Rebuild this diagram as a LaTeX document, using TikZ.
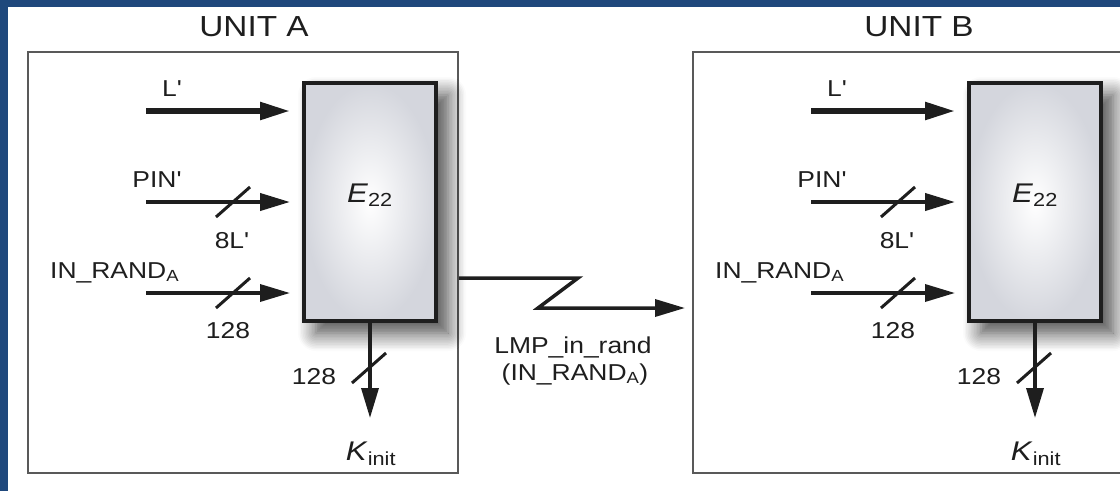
\documentclass[tikz,border=0pt]{standalone}
\usepackage{fontspec}
\setmainfont{Liberation Sans}[Ligatures=TeXOff,FakeStretch=1.15]
\usetikzlibrary{arrows.meta,shadows.blur}
\definecolor{frameblue}{RGB}{31,72,124}
\definecolor{boxgray}{RGB}{212,214,221}
\definecolor{inkblack}{RGB}{30,30,30}
\newcommand{\lblfont}{\fontsize{23}{27}\selectfont}
\newcommand{\bigfont}{\fontsize{27}{32}\selectfont}
\newcommand{\unitfont}{\fontsize{29}{34}\selectfont}

\begin{document}
\begin{tikzpicture}[x=1pt,y=-1pt,
    lbl/.style={anchor=base,inner sep=0pt,font=\lblfont,text=inkblack},
    unitbox/.style={draw=black!65,line width=2pt,minimum width=430pt,minimum height=421pt,inner sep=0pt},
    ebox/.style={draw=inkblack,line width=4pt,minimum width=132pt,minimum height=238pt,inner sep=0pt,
        inner color=white,outer color=boxgray,
        blur shadow={shadow xshift=12pt,shadow yshift=-12pt,shadow blur radius=18pt,
            shadow opacity=75,shadow blur steps=12}},
    bus/.style={line width=3.5pt,inkblack,-{Triangle[length=30pt,width=17pt]}},
    slash/.style={line width=3pt,inkblack}]
        \clip (0,0) rectangle (1120,491);

        \foreach \dx/\u in {0/A,665/B}{
        \begin{scope}[xshift=\dx pt]
            % Unit frame
            \node[unitbox] (u\u) at (243,262.5) {};
            \node[lbl,font=\unitfont] (t\u) at (254,36) {UNIT \u};

            % E22 block
            \node[ebox] (e\u) at (370,202) {};
            \node[lbl,font=\bigfont] (n\u) at (370,202) {\textit{E}\textsubscript{22}};

            % Inputs
            \coordinate (l\u) at (146,111);
            \coordinate (p\u) at (146,202);
            \coordinate (r\u) at (146,293);
            \draw[bus,line width=5.5pt,shorten >=12pt] (l\u) -- (e\u.west |- l\u);
            \draw[bus,line width=4pt,shorten >=12pt] (p\u) -- (e\u.west |- p\u);
            \draw[bus,shorten >=12pt] (r\u) -- (e\u.west |- r\u);
            \draw[slash] (233,202) ++(-17,15) -- ++(34,-30);
            \draw[slash] (233,293) ++(-17,15) -- ++(34,-30);
            \node[lbl] (ll\u) at (172,96) {L'};
            \node[lbl] (pl\u) at (157,187) {PIN'};
            \node[lbl] (pw\u) at (232,248) {8L'};
            \node[lbl,anchor=base west] (rl\u) at (50,278) {IN\_RAND\textsubscript{A}};
            \node[lbl] (rw\u) at (228,338) {128};

            % Output key
            \coordinate (o\u) at (370,418);
            \draw[bus] (e\u.south) -- (o\u);
            \draw[slash] (369,368) ++(-17,15) -- ++(34,-30);
            \node[lbl] (ow\u) at (314,384) {128};
            \node[lbl,font=\bigfont] (k\u) at (371,460) {\textit{K}\textsubscript{init}};
        \end{scope}
        }

        % Link A -> B
        \coordinate (lmp) at (685,308);
        \draw[bus] (uA.east |- 0,278) -- (578,278) -- (538,308) -- (lmp);
        \node[lbl] (lmp1) at (573,353) {LMP\_in\_rand};
        \node[lbl] (lmp2) at (575,380) {(IN\_RAND\textsubscript{A})};

        % Border
        \fill[frameblue] (0,0) rectangle (1120,7);
        \fill[frameblue] (0,0) rectangle (8,491);
\end{tikzpicture}
\end{document}
